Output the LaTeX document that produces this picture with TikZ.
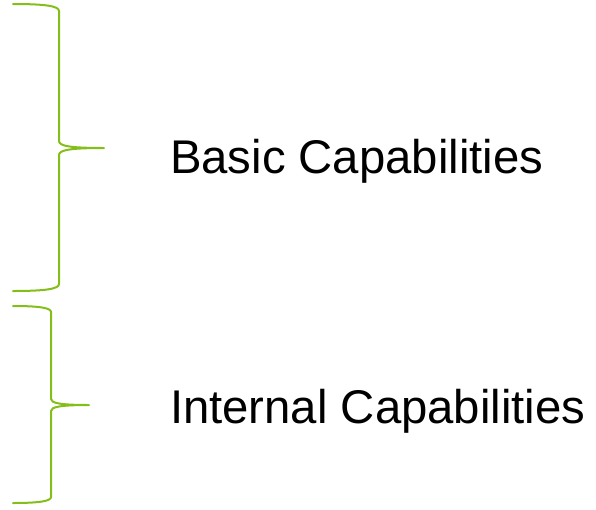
\documentclass[tikz,border=0pt]{standalone}
\usepackage{fontspec}
\setmainfont{Liberation Sans}
\definecolor{bracegreen}{RGB}{132,190,24}
\begin{document}
\begin{tikzpicture}[x=1pt,y=-1pt,
  brace/.style={draw=bracegreen,line width=2pt,line cap=round,line join=round},
  label/.style={anchor=base west,inner sep=0pt,font=\fontsize{47.3}{56}\selectfont}]
\useasboundingbox (0,0) rectangle (596,509);

% upper brace
\draw[brace] (13,4) .. controls (45,4) and (59,6) .. (59,11)
  -- (59,141) .. controls (59,146) and (70,148) .. (104,148)
  .. controls (70,148) and (59,150) .. (59,155)
  -- (59,284) .. controls (59,289) and (45,291) .. (13,291);
\coordinate (tipA) at (104,148);

% lower brace
\draw[brace] (13,306) .. controls (40,306) and (51,308) .. (51,312)
  -- (51,399) .. controls (51,403) and (60,405) .. (89,405)
  .. controls (60,405) and (51,407) .. (51,411)
  -- (51,497) .. controls (51,501) and (40,503) .. (13,503);
\coordinate (tipB) at (89,405);

\node[label] (basic) at (169.8,173) {Basic Capabilities};
\node[label] (internal) at (169.8,423) {Internal Capabilities};
\end{tikzpicture}
\end{document}
